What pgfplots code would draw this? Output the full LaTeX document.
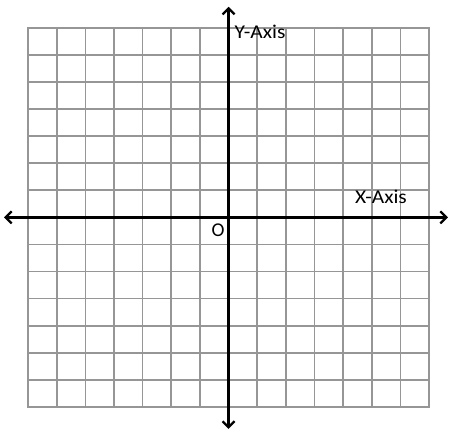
\documentclass[border=0pt]{standalone}
\usepackage{pgfplots}
\pgfplotsset{compat=1.18}
\usepackage{fontspec}
\setmainfont{Carlito}
\usetikzlibrary{arrows.meta}
\definecolor{gridgray}{RGB}{150,150,150}
\begin{document}
\begin{tikzpicture}
\begin{axis}[
  x=28.64pt, y=27.07pt,
  xmin=-7, xmax=7, ymin=-7, ymax=7,
  xtick={-7,...,7}, ytick={-7,...,7},
  xticklabels={}, yticklabels={},
  major tick length=0pt,
  grid=major,
  grid style={gridgray, line width=1.7pt},
  axis line style={gridgray, line width=1.7pt},
  clip=false,
]
\addplot[black, line width=2.3pt, {Straight Barb[length=6pt,width=12pt]}-{Straight Barb[length=6pt,width=12pt]}] coordinates {(-7.84,0) (7.66,0)};
\addplot[black, line width=2.3pt, {Straight Barb[length=6pt,width=12pt]}-{Straight Barb[length=6pt,width=12pt]}] coordinates {(0,-7.81) (0,7.78)};
\node[inner sep=0pt, font=\fontsize{19.5}{21}\selectfont] at (axis cs:5.32,0.76) {\scalebox{1.1}[1]{X-Axis}};
\node[inner sep=0pt, font=\fontsize{19.5}{21}\selectfont] at (axis cs:1.10,6.87) {\scalebox{1.1}[1]{Y-Axis}};
\node[inner sep=0pt, font=\fontsize{19.5}{21}\selectfont] at (axis cs:-0.37,-0.46) {O};
\coordinate (BL) at (axis cs:-7.98,-8.07);
\coordinate (TR) at (axis cs:8.15,8.03);
\end{axis}
\pgfresetboundingbox
\path (BL) rectangle (TR);
\end{tikzpicture}
\end{document}
